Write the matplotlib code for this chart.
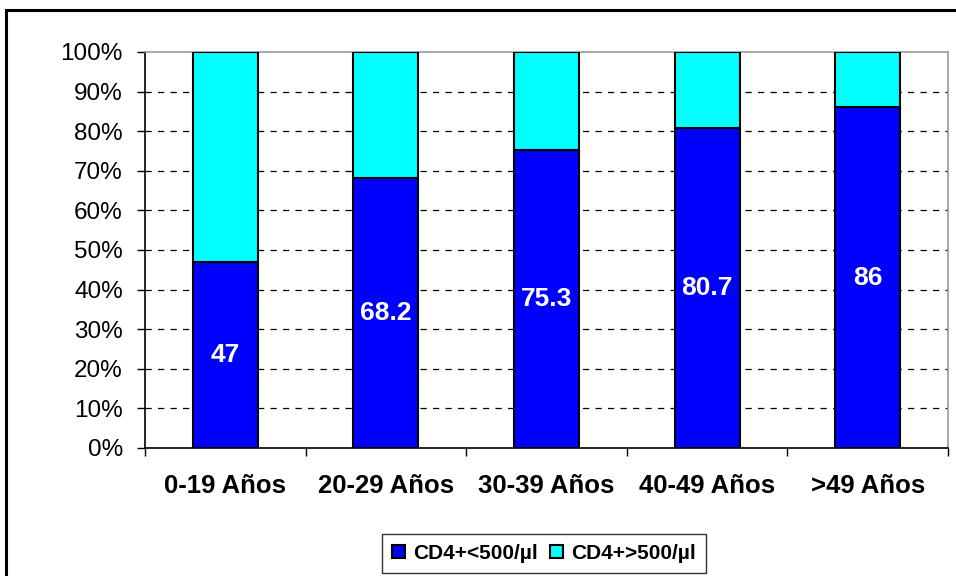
import matplotlib
matplotlib.use("Agg")
import matplotlib.pyplot as plt
from matplotlib.patches import Rectangle
import numpy as np

plt.rcParams['font.family'] = ['Liberation Sans', 'DejaVu Sans']

categories = ["0-19 Años", "20-29 Años", "30-39 Años", "40-49 Años", ">49 Años"]
low_cd4 = [47, 68.2, 75.3, 80.7, 86]
high_cd4 = [100 - v for v in low_cd4]
label_texts = ["47", "68.2", "75.3", "80.7", "86"]
series_names = ["CD4+<500/µl", "CD4+>500/µl"]
yticks = list(range(0, 101, 10))

fig = plt.figure(figsize=(9.56, 5.76), dpi=100)
ax = fig.add_axes([145/956, 1-448/576, (948-145)/956, (448-52)/576])

x = np.arange(len(categories))
w = 0.405
b1 = ax.bar(x, low_cd4, w, color="#0000FF", edgecolor="black", linewidth=1.5, zorder=3, label=series_names[0])
b2 = ax.bar(x, high_cd4, w, bottom=low_cd4, color="#00FFFF", edgecolor="black", linewidth=1.5, zorder=3, label=series_names[1])

for xi, v, t in zip(x, low_cd4, label_texts):
    ax.text(xi, v/2, t, ha="center", va="center", color="white", fontsize=19, fontweight="bold", zorder=4)

ax.set_xlim(-0.5, len(categories)-0.5)
ax.set_ylim(0, 100)
ax.set_yticks(yticks)
ax.set_yticklabels([f"{v}%" for v in yticks], fontsize=17.5)
for v in yticks[1:-1]:
    ax.axhline(v, color="black", linestyle=(0, (5, 5)), linewidth=0.9, zorder=1)

ax.set_xticks(x)
ax.set_xticklabels(categories, fontsize=18.5, fontweight="bold")
ax.set_xticks(np.arange(len(categories)+1)-0.5, minor=True)
ax.tick_params(axis="x", which="major", length=0, pad=19)
ax.tick_params(axis="x", which="minor", length=6, width=1, direction="out")
ax.tick_params(axis="y", length=6, width=1, direction="out", pad=10)

ax.spines["left"].set_color("black")
ax.spines["bottom"].set_color("black")
ax.spines["top"].set_color("#999999")
ax.spines["right"].set_color("#999999")
for s in ax.spines.values():
    s.set_linewidth(1.2)

leg = fig.legend(handles=[b1, b2], loc="center", bbox_to_anchor=(544/956, 1-553.5/576),
                 ncol=2, frameon=True, fancybox=False, edgecolor="black",
                 prop={"size": 15, "weight": "bold"}, handlelength=0.6, handleheight=0.6,
                 handletextpad=0.4, columnspacing=0.6, borderpad=0.5)
leg.get_frame().set_linewidth(1.0)

fig.patches.append(Rectangle((6/956, -0.05), 1.0, 1-10/576+0.05, transform=fig.transFigure,
                             fill=False, edgecolor="black", linewidth=2.2))

fig.savefig("out.png", dpi=100)
